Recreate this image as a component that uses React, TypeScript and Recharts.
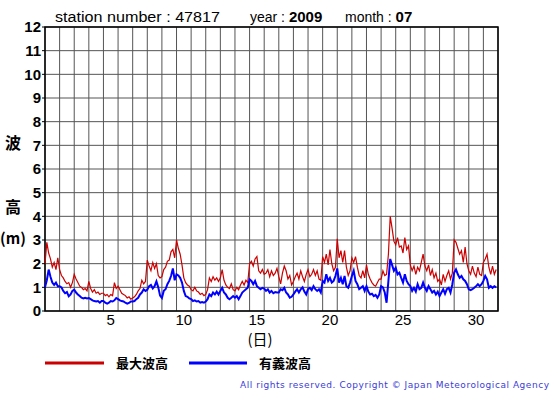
import React from 'react';
import { LineChart, Line, XAxis, YAxis, CartesianGrid, ReferenceArea } from 'recharts';

// 3-hourly readings, 8 per day, July 2009 (station 47817)
const maxWave = [
  2.0, 2.9, 2.45, 2.2, 1.85, 2.05, 1.75, 2.25, // 1
  1.75, 1.5, 1.4, 1.25, 1.15, 1.2, 1.0, 1.2,
  1.55, 1.35, 1.2, 1.05, 1.0, 0.9, 0.95, 0.85,
  1.25, 0.95, 0.8, 0.9, 0.75, 0.8, 0.7, 0.75,
  0.75, 0.65, 0.7, 0.6, 0.7, 0.65, 1.2, 0.95, // 5
  1.05, 0.9, 0.75, 0.7, 0.65, 0.55, 0.6, 0.5,
  0.55, 0.6, 0.7, 0.85, 0.95, 1.3, 1.15, 1.25,
  2.15, 1.9, 1.7, 2.05, 1.8, 2.0, 1.5, 1.4,
  1.45, 1.75, 1.85, 2.1, 2.15, 2.5, 2.6, 2.25,
  3.0, 2.65, 2.4, 1.95, 1.4, 1.2, 1.1, 1.05, // 10
  0.9, 0.85, 1.0, 0.85, 0.8, 0.7, 0.75, 0.65,
  0.7, 0.9, 1.4, 1.25, 1.45, 1.3, 1.4, 1.25,
  1.4, 1.75, 1.3, 1.1, 1.0, 0.95, 1.15, 0.9,
  0.85, 1.0, 0.9, 1.1, 1.25, 1.1, 1.3, 1.2,
  2.0, 2.1, 1.9, 2.2, 2.3, 1.7, 1.6, 1.75, // 15
  1.55, 1.6, 1.75, 1.45, 1.7, 1.5, 1.6, 1.8,
  1.45, 1.15, 1.6, 1.9, 1.7, 1.35, 1.5, 1.1,
  1.25, 1.45, 1.6, 1.35, 1.7, 1.45, 1.25, 1.55,
  1.75, 1.45, 1.55, 1.75, 1.5, 1.7, 1.35, 1.3,
  2.3, 2.05, 2.4, 1.95, 2.6, 2.0, 1.7, 1.85, // 20
  3.05, 2.25, 2.55, 2.05, 2.55, 1.85, 1.5, 1.7,
  2.25, 2.05, 2.3, 1.85, 1.5, 1.4, 1.7, 1.4,
  1.95, 1.55, 1.35, 1.2, 1.1, 1.05, 1.2, 1.35,
  1.35, 1.7, 1.5, 1.55, 2.4, 4.0, 3.5, 2.95,
  2.8, 3.1, 2.7, 2.75, 2.45, 3.1, 2.6, 2.75, // 25
  1.95, 1.7, 1.9, 1.55, 1.85, 1.7, 2.05, 2.4,
  1.9, 1.7, 1.95, 1.5, 1.75, 1.4, 1.6, 1.25,
  1.35, 1.1, 1.55, 1.25, 1.5, 1.7, 1.35, 1.6,
  3.0, 2.9, 2.65, 2.4, 2.55, 2.05, 2.7, 2.0,
  1.7, 1.55, 1.9, 1.6, 1.45, 1.85, 1.55, 1.5, // 30
  2.05, 2.2, 2.4, 1.85, 1.55, 1.9, 1.55, 1.75,
];

const sigWave = [
  1.0, 1.3, 1.75, 1.45, 1.2, 1.1, 1.2, 1.05, // 1
  1.05, 1.0, 0.85, 0.75, 0.8, 0.62, 0.7, 0.85,
  0.9, 0.78, 0.7, 0.63, 0.56, 0.53, 0.56, 0.53,
  0.55, 0.5, 0.45, 0.42, 0.4, 0.42, 0.35, 0.42,
  0.42, 0.35, 0.31, 0.35, 0.42, 0.4, 0.45, 0.55, // 5
  0.5, 0.45, 0.42, 0.4, 0.35, 0.31, 0.34, 0.4,
  0.4, 0.42, 0.5, 0.56, 0.7, 0.78, 0.92, 0.85,
  0.9, 1.05, 1.1, 0.95, 1.05, 1.25, 1.0, 0.65,
  0.55, 0.85, 0.92, 1.13, 1.27, 1.48, 1.8, 1.3,
  1.55, 1.5, 1.4, 1.2, 0.85, 0.63, 0.6, 0.53, // 10
  0.5, 0.42, 0.45, 0.4, 0.42, 0.35, 0.38, 0.35,
  0.4, 0.5, 0.7, 0.63, 0.78, 0.7, 0.82, 0.7,
  0.85, 0.98, 0.78, 0.7, 0.56, 0.5, 0.56, 0.63,
  0.56, 0.63, 0.5, 0.63, 0.78, 0.85, 0.92, 0.98,
  1.34, 1.27, 1.13, 1.27, 1.05, 0.98, 0.92, 0.98, // 15
  0.95, 0.85, 0.92, 0.78, 0.85, 0.75, 0.8, 0.78,
  0.78, 0.92, 0.88, 0.98, 0.78, 0.7, 0.56, 0.6,
  0.7, 0.82, 0.92, 0.78, 0.92, 1.0, 0.82, 0.7,
  0.92, 0.98, 0.88, 1.05, 0.92, 0.85, 0.92, 0.78,
  1.27, 1.2, 1.55, 1.27, 1.4, 1.2, 1.27, 1.48, // 20
  1.8, 1.2, 1.4, 1.13, 1.48, 1.05, 0.98, 1.2,
  1.48, 1.7, 1.27, 1.13, 0.92, 0.98, 1.05, 0.85,
  1.05, 0.82, 0.7, 0.73, 0.63, 0.68, 0.56, 0.7,
  1.05, 1.0, 0.78, 0.35, 1.27, 2.2, 1.95, 1.7,
  1.83, 1.55, 1.62, 1.4, 1.2, 1.55, 1.27, 1.13, // 25
  1.05, 0.85, 0.98, 0.82, 1.13, 0.92, 0.98, 1.2,
  0.98, 0.85, 1.05, 0.92, 0.78, 0.85, 0.7, 0.82,
  0.63, 0.78, 0.92, 0.73, 0.92, 0.98, 0.78, 1.13,
  1.62, 1.76, 1.55, 1.4, 1.48, 1.34, 1.27, 1.13,
  0.92, 0.88, 0.92, 0.98, 1.05, 1.13, 1.05, 1.13, // 30
  1.27, 1.48, 1.34, 0.98, 1.05, 0.98, 1.05, 1.0,
];

const gridDays = Array.from({ length: 32 }, (_, i) => i + 1);
const dayLabels = [5, 10, 15, 20, 25, 30];
const yTicks = [0, 1, 2, 3, 4, 5, 6, 7, 8, 9, 10, 11, 12];

const RED = '#cc0000';
const BLUE = '#0000ff';

// time in days: day 1 00:00 = 1
const data = maxWave.map((v, i) => ({ t: 1 + (i * 3) / 24, max: v, sig: sigWave[i] }));

const FONT = '"Liberation Sans", Arial, sans-serif';
const JP = '"Noto Sans CJK JP", sans-serif';

// vertical grid at each day boundary, placed through the x axis scale
const dayGrid = ({ xAxis, offset }: any) => {
  if (xAxis && typeof xAxis.scale === 'function') return gridDays.map(d => xAxis.scale(d));
  return gridDays.map(d => offset.left + ((d - 1) / 31) * offset.width);
};

export default function App() {
  return (
    <div style={{ position: 'absolute', left: 0, top: 0, width: 555, height: 395, background: '#fff' }}>
      <LineChart width={555} height={395} data={data} margin={{ top: 27, right: 57, left: 5, bottom: 54 }}>
        <CartesianGrid stroke="#555" strokeWidth={1} verticalCoordinatesGenerator={dayGrid} />
        <XAxis dataKey="t" type="number" domain={[1, 32]}
          ticks={dayLabels.map(d => d + 0.5)} tickFormatter={(v: number) => String(Math.floor(v))}
          tickLine={false} axisLine={false} tickSize={0} tickMargin={3} height={30}
          tick={{ fill: '#000', fontSize: 15, fontFamily: FONT }} />
        <YAxis domain={[0, 12]} ticks={yTicks} interval={0} width={40} tickSize={3} tickMargin={1}
          axisLine={false} tickLine={{ stroke: '#000' }}
          tick={{ fill: '#000', fontSize: 15, fontWeight: 'bold', fontFamily: FONT }} />
        <ReferenceArea x1={1} x2={32} y1={0} y2={12} fill="none" stroke="#000" strokeWidth={1.5}
          ifOverflow="visible" />
        <Line dataKey="max" stroke={RED} strokeWidth={1.2} dot={false} type="linear" isAnimationActive={false} />
        <Line dataKey="sig" stroke={BLUE} strokeWidth={2} dot={false} type="linear" isAnimationActive={false} />
      </LineChart>
      <svg width={555} height={395} style={{ position: 'absolute', left: 0, top: 0, pointerEvents: 'none' }}>
        <text x={55} y={22} fontFamily={FONT} fontSize={14} textLength={165} lengthAdjust="spacingAndGlyphs">
          station number : 47817
        </text>
        <text x={250} y={22} fontFamily={FONT} fontSize={14}>
          year : <tspan fontWeight="bold" fontSize={15}>2009</tspan>
        </text>
        <text x={345} y={22} fontFamily={FONT} fontSize={14}>
          month : <tspan fontWeight="bold" fontSize={15}>07</tspan>
        </text>
        <text x={13} y={149} textAnchor="middle" fontFamily={JP} fontWeight="bold" fontSize={16}>波</text>
        <text x={13} y={213} textAnchor="middle" fontFamily={JP} fontWeight="bold" fontSize={16}>高</text>
        <text x={13} y={244} textAnchor="middle" fontFamily={JP} fontWeight="bold" fontSize={15}>(m)</text>
        <text x={260} y={345} textAnchor="middle" fontFamily={JP} fontSize={15}>(日)</text>
        <line x1={45} x2={104} y1={363} y2={363} stroke={RED} strokeWidth={3} />
        <text x={116} y={368} fontFamily={JP} fontWeight="bold" fontSize={13}>最大波高</text>
        <line x1={189} x2={247} y1={363} y2={363} stroke={BLUE} strokeWidth={3} />
        <text x={259} y={368} fontFamily={JP} fontWeight="bold" fontSize={13}>有義波高</text>
        <text x={240} y={388} fontFamily='"DejaVu Sans", sans-serif' fontSize={9} fill="#3b3bd6"
          textLength={309} lengthAdjust="spacing">
          All rights reserved. Copyright © Japan Meteorological Agency
        </text>
      </svg>
    </div>
  );
}
